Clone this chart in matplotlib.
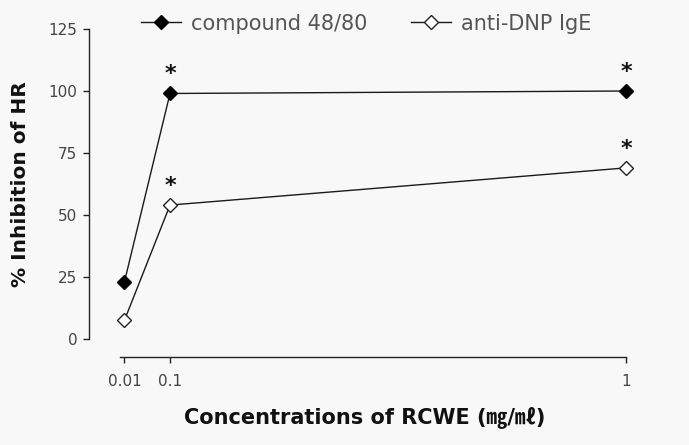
import matplotlib
matplotlib.use("Agg")
import matplotlib.pyplot as plt

# Data
concentrations = [0.01, 0.1, 1]
compound_4880 = [23, 99, 100]
anti_dnp_ige = [7.5, 54, 69]
compound_sig = [False, True, True]
anti_dnp_sig = [False, True, True]
x_ticks = [0.01, 0.1, 1]
x_ticklabels = ["0.01", "0.1", "1"]
y_ticks = [0, 25, 50, 75, 100, 125]

plt.rcParams['font.family'] = ['DejaVu Sans', 'Noto Sans CJK KR']

bg = '#f8f8f8'
fig = plt.figure(figsize=(6.89, 4.45), dpi=100, facecolor=bg)
ax = fig.add_axes([89/689, 1-339/445, (640-89)/689, (339-29)/445], facecolor=bg)

line_col = '#1a1a1a'
ax.plot(concentrations, compound_4880, color=line_col, lw=1.0, marker='D', ms=7.5,
        mfc='black', mec='black', label='compound 48/80', clip_on=False, zorder=3)
ax.plot(concentrations, anti_dnp_ige, color=line_col, lw=1.0, marker='D', ms=7.5,
        mfc='white', mec='#222222', mew=1.0, label='anti-DNP IgE', clip_on=False, zorder=3)

for xs, ys, sig in [(concentrations, compound_4880, compound_sig),
                    (concentrations, anti_dnp_ige, anti_dnp_sig)]:
    for x, y, s in zip(xs, ys, sig):
        if s:
            ax.annotate('*', (x, y), xytext=(0, 9.5), textcoords='offset points',
                        ha='center', va='baseline', fontsize=16, fontweight='bold',
                        color='#111111', annotation_clip=False)

ax.set_xlim(-0.0599, 1.0276)
ax.set_ylim(0, 125)

for s in ['top', 'right']:
    ax.spines[s].set_visible(False)
ax.spines['left'].set_bounds(0, 125)
ax.spines['bottom'].set_position(('outward', 13))
ax.spines['bottom'].set_bounds(0.0015, 1)
for s in ['left', 'bottom']:
    ax.spines[s].set_color('#222222')
    ax.spines[s].set_linewidth(1.0)

ax.set_yticks(y_ticks)
ax.set_xticks(x_ticks)
ax.set_xticklabels(x_ticklabels)
ax.tick_params(axis='both', labelsize=11, labelcolor='#444444', color='#222222',
               length=4.5, width=1.0, direction='out')
ax.tick_params(axis='y', pad=4)
ax.tick_params(axis='x', pad=8)

ax.set_ylabel('% Inhibition of HR', fontsize=14.5, fontweight='bold', color='#111111',
              labelpad=13)
ax.set_xlabel('Concentrations of RCWE (㎎/㎖)', fontsize=15, fontweight='bold',
              color='#111111', labelpad=12)

leg = fig.legend(loc='center', bbox_to_anchor=(0.532, 0.947), ncol=2, frameon=False,
                 fontsize=15, handlelength=1.9, handletextpad=0.5, columnspacing=2.1,
                 labelcolor='#555555')

fig.savefig('out.png', dpi=100, facecolor=bg)
